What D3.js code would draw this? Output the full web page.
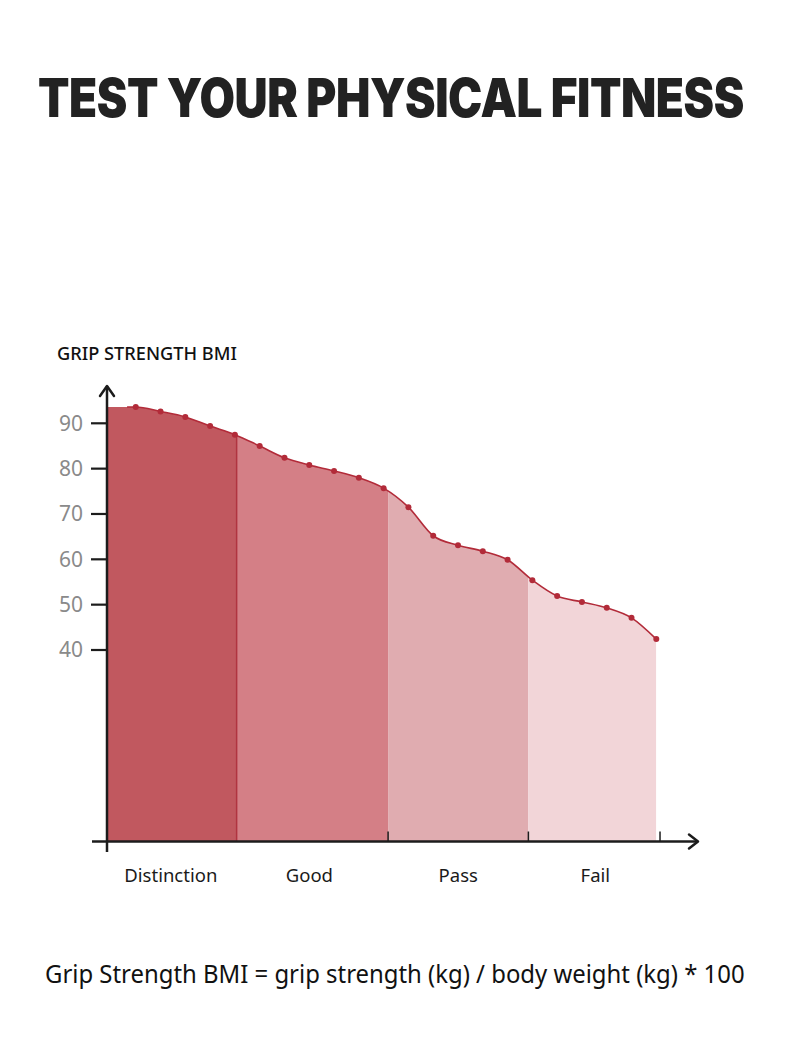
<!DOCTYPE html>
<html>
<head>
<meta charset="utf-8">
<script src="https://cdn.jsdelivr.net/npm/d3@7"></script>
<style>
  html, body { margin: 0; padding: 0; background: #ffffff; }
  svg { display: block; }
</style>
</head>
<body>
<script>
// ---------------- DATA ----------------
const titleText = "TEST YOUR PHYSICAL FITNESS";
const yAxisTitle = "GRIP STRENGTH BMI";
const formulaText = "Grip Strength BMI = grip strength (kg) / body weight (kg) * 100";

// grip strength BMI values of the sample points, in order along the x axis
const pointIndex = d3.range(22);
const pointValues = [93.6, 92.6, 91.4, 89.4, 87.5, 85.0, 82.4, 80.8, 79.5, 78.0, 75.7,
                     71.5, 65.2, 63.1, 61.8, 59.9, 55.4, 51.9, 50.6, 49.3, 47.1, 42.4];

// grade categories and their extents along the x axis (in point-index units)
const categories = ["Distinction", "Good", "Pass", "Fail"];
const bandStarts = [-1.16, 4.07, 10.18, 15.84];
const bandEnds   = [4.07, 10.18, 15.84, 21.0];
const xTickValues = [10.18, 15.84, 21.15];

const yTickValues = [40, 50, 60, 70, 80, 90];

// ---------------- LAYOUT / STYLE ----------------
const W = 790, H = 1053;
const bandColors = ["#c1585f", "#d47f86", "#e0acb0", "#f2d5d8"];
const lineColor = "#b22b39";
const axisColor = "#1c1c1c";

const svg = d3.select("body").append("svg")
  .attr("width", W).attr("height", H)
  .style("font-family", "'Noto Sans', sans-serif");

const x = d3.scaleLinear().domain([-1.16, 21]).range([107, 656.3]);
const y = d3.scaleLinear().domain([40, 90]).range([650, 423.3]);
const axisY = 841.5;
const axisX = x(-1.16);

// fit a text horizontally to a target width by scaling glyphs
function fitText(sel, x0, y0, targetW) {
  const w = sel.node().getComputedTextLength();
  const sx = targetW / w;
  sel.attr("x", 0).attr("y", 0)
     .attr("transform", `translate(${x0},${y0}) scale(${sx},1)`);
}

// Title
const title = svg.append("text")
  .style("font-family", "Inter, 'DejaVu Sans', sans-serif")
  .style("font-weight", 900).style("font-size", "54px")
  .style("letter-spacing", "-0.5px")
  .attr("fill", "#222222")
  .text(titleText);
fitText(title, 38, 117, 706);

// y axis title
const yTitle = svg.append("text")
  .style("font-weight", 500).style("font-size", "18.5px")
  .attr("fill", "#111111")
  .text(yAxisTitle);
fitText(yTitle, 57, 359.5, 180);

// full data for area (flat start at the y axis)
const series = pointIndex.map((i, k) => ({ i, v: pointValues[k] }));
const areaSeries = [{ i: -1.16, v: pointValues[0] }, { i: -0.35, v: pointValues[0] }].concat(series);

const areaGen = d3.area()
  .x(d => x(d.i)).y0(axisY).y1(d => y(d.v))
  .curve(d3.curveMonotoneX);

const defs = svg.append("defs");
categories.forEach((c, k) => {
  defs.append("clipPath").attr("id", "band" + k)
    .append("rect")
    .attr("x", x(bandStarts[k])).attr("y", 0)
    .attr("width", x(bandEnds[k]) - x(bandStarts[k]))
    .attr("height", axisY);
});

categories.forEach((c, k) => {
  svg.append("path")
    .datum(areaSeries)
    .attr("d", areaGen)
    .attr("fill", bandColors[k])
    .attr("clip-path", "url(#band" + k + ")");
});

// Distinction right edge line
svg.append("line")
  .attr("x1", x(bandEnds[0])).attr("x2", x(bandEnds[0]))
  .attr("y1", axisY).attr("y2", y(d3.interpolateNumber(pointValues[4], pointValues[5])(0.07)))
  .attr("stroke", "#b03440").attr("stroke-width", 1.5);

// curve line
const lineGen = d3.line()
  .x(d => x(d.i)).y(d => y(d.v))
  .curve(d3.curveMonotoneX);
svg.append("path")
  .datum([{ i: -0.35, v: pointValues[0] }].concat(series))
  .attr("d", lineGen)
  .attr("fill", "none")
  .attr("stroke", lineColor)
  .attr("stroke-width", 1.6);

svg.selectAll("circle.pt")
  .data(series)
  .join("circle")
  .attr("class", "pt")
  .attr("cx", d => x(d.i)).attr("cy", d => y(d.v))
  .attr("r", 3)
  .attr("fill", lineColor);

// y axis
const yAxisG = svg.append("g");
yAxisG.append("line")
  .attr("x1", axisX).attr("x2", axisX)
  .attr("y1", 852).attr("y2", 386)
  .attr("stroke", axisColor).attr("stroke-width", 2.5);
yAxisG.append("path")
  .attr("d", `M${axisX - 7},${396} L${axisX},${386} L${axisX + 7},${396}`)
  .attr("fill", "none").attr("stroke", axisColor).attr("stroke-width", 2.5)
  .attr("stroke-linecap", "round").attr("stroke-linejoin", "round");

yTickValues.forEach(v => {
  yAxisG.append("line")
    .attr("x1", axisX - 16).attr("x2", axisX)
    .attr("y1", y(v)).attr("y2", y(v))
    .attr("stroke", axisColor).attr("stroke-width", 2.2);
  yAxisG.append("text")
    .attr("x", 83).attr("y", y(v))
    .attr("dy", "0.35em")
    .attr("text-anchor", "end")
    .style("font-size", "21px")
    .attr("fill", "#8a8a8a")
    .text(v);
});

// x axis
const xAxisG = svg.append("g");
xAxisG.append("line")
  .attr("x1", 92).attr("x2", 698)
  .attr("y1", axisY).attr("y2", axisY)
  .attr("stroke", axisColor).attr("stroke-width", 2.5);
xAxisG.append("path")
  .attr("d", `M${689},${axisY - 7} L${698},${axisY} L${689},${axisY + 7}`)
  .attr("fill", "none").attr("stroke", axisColor).attr("stroke-width", 2.5)
  .attr("stroke-linecap", "round").attr("stroke-linejoin", "round");

xTickValues.forEach(t => {
  xAxisG.append("line")
    .attr("x1", x(t)).attr("x2", x(t))
    .attr("y1", axisY).attr("y2", axisY - 10)
    .attr("stroke", axisColor).attr("stroke-width", 1.5);
});

categories.forEach((c, k) => {
  xAxisG.append("text")
    .attr("x", (x(bandStarts[k]) + x(bandEnds[k])) / 2 + [-1, -3, 0, 3][k])
    .attr("y", 882)
    .attr("text-anchor", "middle")
    .style("font-size", "18.5px")
    .attr("fill", "#1a1a1a")
    .text(c);
});

// formula
const formula = svg.append("text")
  .style("font-size", "25.5px")
  .attr("fill", "#111111")
  .text(formulaText);
fitText(formula, 45, 983, 700);
</script>
</body>
</html>
